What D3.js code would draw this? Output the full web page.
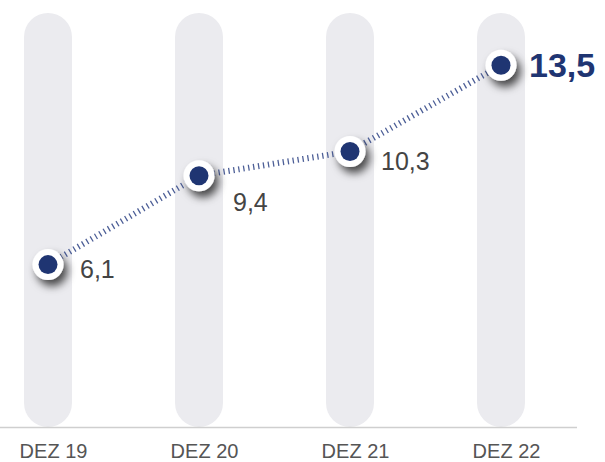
<!DOCTYPE html>
<html>
<head>
<meta charset="utf-8">
<script src="https://cdn.jsdelivr.net/npm/d3@7"></script>
<style>
  html, body { margin: 0; padding: 0; background: #fff; }
  svg { display: block; }
</style>
</head>
<body>
<svg id="chart" width="605" height="462"></svg>
<script>
// ---- data ----
const categories = ["DEZ 19", "DEZ 20", "DEZ 21", "DEZ 22"];
const values = [6.1, 9.4, 10.3, 13.5];
const valueLabels = ["6,1", "9,4", "10,3", "13,5"];
const highlightIndex = 3;

// ---- layout (styling only) ----
const labelOffsets = [[32, 13], [34, 35], [31, 19], [28, 12]];
const navy = "#1f3572";

const svg = d3.select("#chart");

const x = d3.scalePoint().domain(categories).range([48, 501]);
const y = d3.scaleLinear().domain([0, 15.4]).range([429, 14]);

const defs = svg.append("defs");
const f = defs.append("filter").attr("id", "shadow")
  .attr("x", "-80%").attr("y", "-80%").attr("width", "260%").attr("height", "260%");
f.append("feDropShadow").attr("dx", 4).attr("dy", 6).attr("stdDeviation", 4.5)
  .attr("flood-color", "#000").attr("flood-opacity", 0.7);

// pills
const pillW = 48;
svg.append("g").selectAll("rect").data(categories).join("rect")
  .attr("x", d => x(d) - pillW / 2)
  .attr("y", y(15.4) - 1)
  .attr("width", pillW)
  .attr("height", y(0) - y(15.4) - 1)
  .attr("rx", pillW / 2)
  .attr("fill", "#ebebef");

// baseline
svg.append("line")
  .attr("x1", 0).attr("x2", 577)
  .attr("y1", 427.5).attr("y2", 427.5)
  .attr("stroke", "#cfcfcf").attr("stroke-width", 1.5);

// axis labels
const xAxis = d3.axisBottom(x).tickSize(0).tickPadding(0);
const ax = svg.append("g").attr("transform", "translate(5,444)").call(xAxis);
ax.select(".domain").remove();
ax.selectAll("text")
  .attr("dy", "0.71em")
  .attr("font-family", "'Liberation Sans', Arial, Helvetica, sans-serif")
  .attr("font-size", 20)
  .attr("fill", "#555");

// dotted connecting line
const line = d3.line().x((d, i) => x(categories[i])).y(d => y(d));
svg.append("path")
  .datum(values)
  .attr("d", line)
  .attr("fill", "none")
  .attr("stroke", "#4d5f97")
  .attr("stroke-width", 6)
  .attr("stroke-dasharray", "1.3 3.7");

// dots
const dots = svg.append("g").selectAll("g").data(values).join("g")
  .attr("transform", (d, i) => `translate(${x(categories[i])},${y(d)})`);
dots.append("circle").attr("r", 15.5).attr("fill", "#fff").attr("filter", "url(#shadow)");
dots.append("circle").attr("r", 9.5).attr("fill", navy);

// value labels
svg.append("g").selectAll("text").data(values).join("text")
  .attr("x", (d, i) => x(categories[i]) + labelOffsets[i][0])
  .attr("y", (d, i) => y(d) + labelOffsets[i][1])
  .attr("font-family", "'Liberation Sans', Arial, Helvetica, sans-serif")
  .attr("font-size", (d, i) => i === highlightIndex ? 34 : 25)
  .attr("font-weight", (d, i) => i === highlightIndex ? "bold" : "normal")
  .attr("fill", (d, i) => i === highlightIndex ? navy : "#444")
  .text((d, i) => valueLabels[i]);
</script>
</body>
</html>
